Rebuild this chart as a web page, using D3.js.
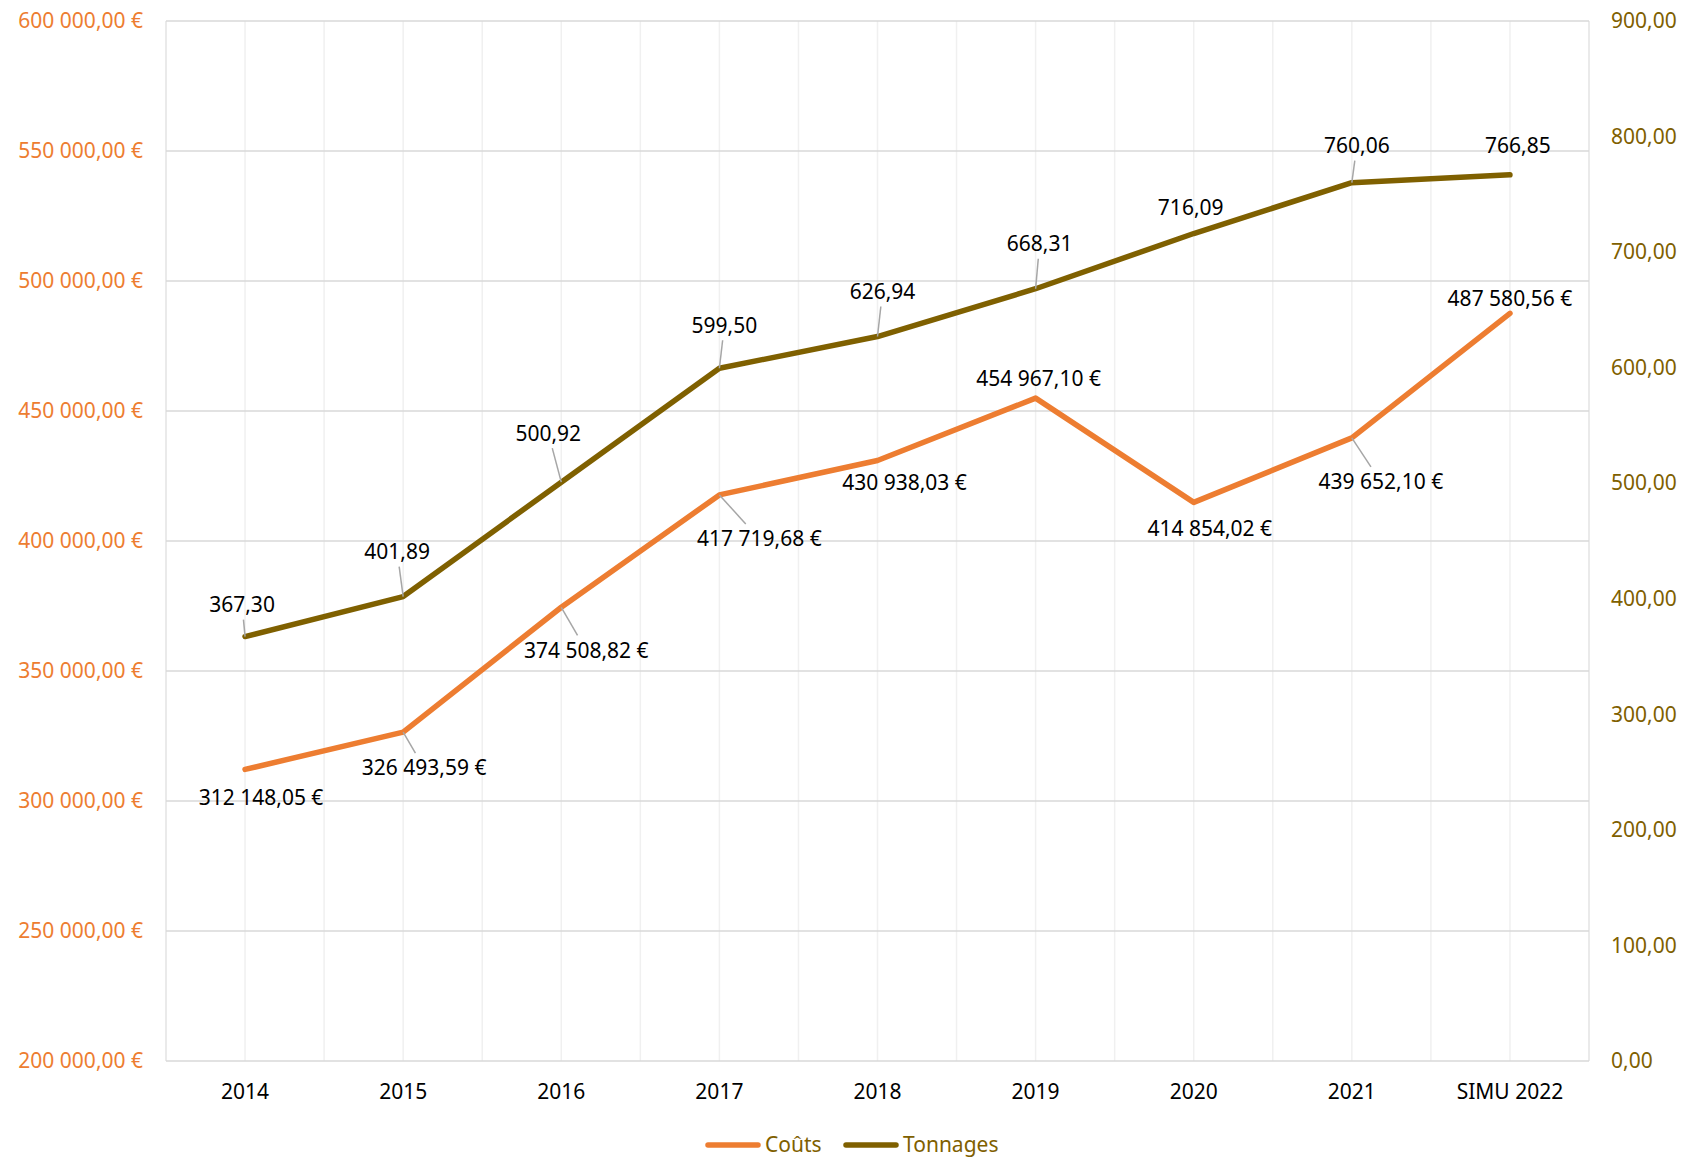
<!DOCTYPE html>
<html>
<head>
<meta charset="utf-8">
<script src="https://cdn.jsdelivr.net/npm/d3@7"></script>
<style>
	body { margin: 0; background: #fff; }
	text { font-family: "Noto Sans", "Open Sans", sans-serif; }
</style>
</head>
<body>
<div id="chart"></div>
<script>

var categories = ["2014", "2015", "2016", "2017", "2018", "2019", "2020", "2021", "SIMU 2022"];
var couts = [312148.05, 326493.59, 374508.82, 417719.68, 430938.03, 454967.10, 414854.02, 439652.10, 487580.56];
var tonnages = [367.30, 401.89, 500.92, 599.50, 626.94, 668.31, 716.09, 760.06, 766.85];
var leftTicks = [200000, 250000, 300000, 350000, 400000, 450000, 500000, 550000, 600000];
var rightTicks = [0, 100, 200, 300, 400, 500, 600, 700, 800, 900];

// label placement (offset of the label centre from its point, leader line yes/no)
var coutsLabelPos = [[16, 28, 0], [21, 36, 1], [25, 43, 1], [40, 44, 1], [27, 22, 0], [3, -19, 0], [16, 26, 0], [29, 44, 1], [0, -15, 0]];
var tonnagesLabelPos = [[-3, -32, 1], [-6, -45, 1], [-13, -49, 1], [5, -43, 1], [5, -45, 1], [4, -45, 1], [-3, -26, 0], [5, -37, 1], [8, -29, 0]];

var orange = "#ED7D31",
	brown = "#7F6000",
	fontSize = "21px";

var W = 1684, H = 1158;
var plot = {left: 166, right: 1589, top: 21, bottom: 1061};

var svg = d3.select("#chart").append("svg")
	.attr("width", W)
	.attr("height", H);

var x = d3.scaleBand()
	.domain(categories)
	.range([plot.left, plot.right]);

var yLeft = d3.scaleLinear()
	.domain([200000, 600000])
	.range([plot.bottom, plot.top]);

var yRight = d3.scaleLinear()
	.domain([0, 900])
	.range([plot.bottom, plot.top]);

function cx(d) { return x(d) + x.bandwidth() / 2; }

// french number format: space thousands, comma decimals
var fr = d3.formatLocale({decimal: ",", thousands: "\u00a0", grouping: [3], currency: ["", "\u00a0€"]});
var fmtEuro = fr.format("$,.2f");
var fmtNum = fr.format(",.2f");

// vertical gridlines, at band centres and edges
var vLines = [];
categories.forEach(function (c) {
	vLines.push(x(c));
	vLines.push(cx(c));
});
vLines.push(plot.right);

svg.append("g").selectAll("line")
	.data(vLines)
	.enter().append("line")
	.attr("x1", function (d) { return d; })
	.attr("x2", function (d) { return d; })
	.attr("y1", plot.top)
	.attr("y2", plot.bottom)
	.attr("stroke", function (d, i) { return (i == 0 || i == vLines.length - 1) ? "#E3E3E3" : "#F0F0F0"; })
	.attr("stroke-width", 1.5);

svg.append("g").selectAll("line")
	.data(leftTicks)
	.enter().append("line")
	.attr("x1", plot.left)
	.attr("x2", plot.right)
	.attr("y1", function (d) { return yLeft(d); })
	.attr("y2", function (d) { return yLeft(d); })
	.attr("stroke", "#D9D9D9")
	.attr("stroke-width", 1.5);

// axes
var leftAxis = svg.append("g")
	.attr("transform", "translate(" + (plot.left - 23) + ",0)")
	.call(d3.axisLeft(yLeft).tickValues(leftTicks).tickSize(0).tickPadding(0).tickFormat(fmtEuro));

var rightAxis = svg.append("g")
	.attr("transform", "translate(" + (plot.right + 22) + ",0)")
	.call(d3.axisRight(yRight).tickValues(rightTicks).tickSize(0).tickPadding(0).tickFormat(fmtNum));

var bottomAxis = svg.append("g")
	.attr("transform", "translate(0," + plot.bottom + ")")
	.call(d3.axisBottom(x).tickSize(0).tickPadding(31));

[leftAxis, rightAxis, bottomAxis].forEach(function (a) {
	a.select(".domain").remove();
	a.selectAll("text").attr("font-family", null).style("font-size", fontSize);
});
leftAxis.selectAll("text").attr("fill", orange);
rightAxis.selectAll("text").attr("fill", brown);
bottomAxis.selectAll("text").attr("fill", "#000").attr("dy", "0.35em");

// lines
var coutsLine = d3.line()
	.x(function (d, i) { return cx(categories[i]); })
	.y(function (d) { return yLeft(d); });

var tonnagesLine = d3.line()
	.x(function (d, i) { return cx(categories[i]); })
	.y(function (d) { return yRight(d); });

svg.append("path")
	.datum(couts)
	.attr("d", coutsLine)
	.attr("fill", "none")
	.attr("stroke", orange)
	.attr("stroke-width", 5.5)
	.attr("stroke-linejoin", "round")
	.attr("stroke-linecap", "round");

svg.append("path")
	.datum(tonnages)
	.attr("d", tonnagesLine)
	.attr("fill", "none")
	.attr("stroke", brown)
	.attr("stroke-width", 5.5)
	.attr("stroke-linejoin", "round")
	.attr("stroke-linecap", "round");

// data labels with leader lines
function addLabels(values, scale, pos, fmt) {
	var g = svg.append("g");
	values.forEach(function (v, i) {
		var px = cx(categories[i]), py = scale(v);
		var lx = px + pos[i][0], ly = py + pos[i][1];
		var t = g.append("text")
			.attr("x", lx)
			.attr("y", ly)
			.attr("dy", "0.35em")
			.attr("text-anchor", "middle")
			.style("font-size", fontSize)
			.attr("fill", "#000")
			.text(fmt(v));
		if (pos[i][2]) {
			var b = t.node().getBBox();
			var hw = b.width / 2 + 3, hh = 15;
			var dx = px - lx, dy = py - ly;
			var s = Math.min(Math.abs(dx) > 0 ? hw / Math.abs(dx) : Infinity, Math.abs(dy) > 0 ? hh / Math.abs(dy) : Infinity);
			g.insert("line", "text")
				.attr("x1", px)
				.attr("y1", py)
				.attr("x2", lx + dx * s)
				.attr("y2", ly + dy * s)
				.attr("stroke", "#A6A6A6")
				.attr("stroke-width", 1.5);
		}
	});
}

addLabels(tonnages, yRight, tonnagesLabelPos, fmtNum);
addLabels(couts, yLeft, coutsLabelPos, fmtEuro);

// legend
var legend = svg.append("g").attr("transform", "translate(0,1145)");
var items = [{name: "Coûts", color: orange, x: 706}, {name: "Tonnages", color: brown, x: 844}];
items.forEach(function (it) {
	legend.append("line")
		.attr("x1", it.x + 2)
		.attr("x2", it.x + 52)
		.attr("stroke", it.color)
		.attr("stroke-width", 5.5)
		.attr("stroke-linecap", "round");
	legend.append("text")
		.attr("x", it.x + 59)
		.attr("dy", "0.35em")
		.style("font-size", fontSize)
		.attr("fill", brown)
		.text(it.name);
});

</script>
</body>
</html>
